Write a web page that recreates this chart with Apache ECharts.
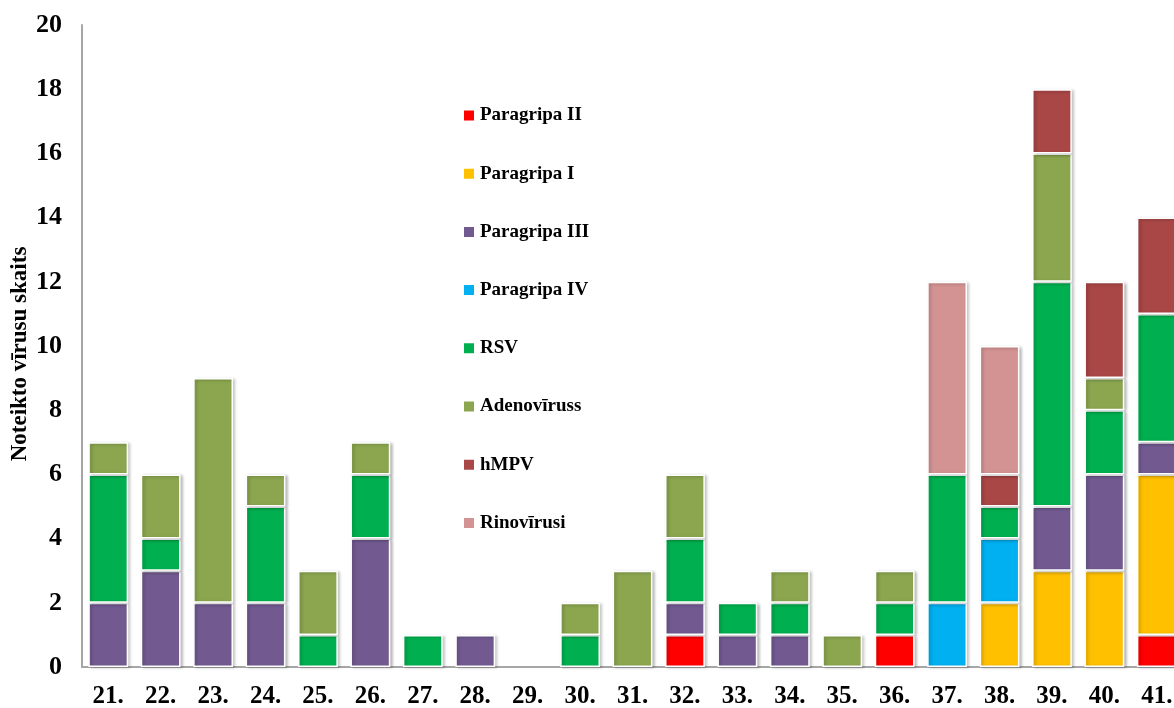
<!DOCTYPE html>
<html>
<head>
<meta charset="utf-8">
<script src="https://cdn.jsdelivr.net/npm/echarts@6/dist/echarts.min.js"></script>
<style>html,body{margin:0;padding:0;background:#fff;}#c{width:1174px;height:708px;}</style>
</head>
<body>
<div id="c"></div>
<script>
const categories = ['21.','22.','23.','24.','25.','26.','27.','28.','29.','30.','31.','32.','33.','34.','35.','36.','37.','38.','39.','40.','41.'];
const paragripaII  = [0,0,0,0,0,0,0,0,0,0,0,1,0,0,0,1,0,0,0,0,1];
const paragripaI   = [0,0,0,0,0,0,0,0,0,0,0,0,0,0,0,0,0,2,3,3,5];
const paragripaIII = [2,3,2,2,0,4,0,1,0,0,0,1,1,1,0,0,0,0,2,3,1];
const paragripaIV  = [0,0,0,0,0,0,0,0,0,0,0,0,0,0,0,0,2,2,0,0,0];
const rsv          = [4,1,0,3,1,2,1,0,0,1,0,2,1,1,0,1,4,1,7,2,4];
const adeno        = [1,2,7,1,2,1,0,0,0,1,3,2,0,1,1,1,0,0,4,1,0];
const hmpv         = [0,0,0,0,0,0,0,0,0,0,0,0,0,0,0,0,0,1,2,3,3];
const rino         = [0,0,0,0,0,0,0,0,0,0,0,0,0,0,0,0,6,4,0,0,0];
const yTicks = [0,2,4,6,8,10,12,14,16,18,20];

const seriesDefs = [
  ['Paragripa II', paragripaII, '#ff0000'],
  ['Paragripa I', paragripaI, '#ffc000'],
  ['Paragripa III', paragripaIII, '#725a91'],
  ['Paragripa IV', paragripaIV, '#00b0f0'],
  ['RSV', rsv, '#00b050'],
  ['Adenovīruss', adeno, '#8ba64f'],
  ['hMPV', hmpv, '#a94646'],
  ['Rinovīrusi', rino, '#d49393']
];
const font = '"Liberation Serif","Times New Roman",serif';
const chart = echarts.init(document.getElementById('c'));
chart.setOption({
  animation: false,
  grid: {left: 82, right: -9, top: 25, bottom: 41, containLabel: false, outerBoundsMode: 'none'},
  legend: {
    orient: 'vertical', left: 457, top: 101, itemGap: 39.2,
    itemWidth: 12, itemHeight: 12, icon: 'rect',
    textStyle: {fontFamily: font, fontWeight: 'bold', fontSize: 19, color: '#000'},
    data: seriesDefs.map(d => d[0])
  },
  xAxis: {
    type: 'category', data: categories,
    axisLine: {lineStyle: {color: '#a6a6a6', width: 2}},
    axisTick: {show: false},
    axisLabel: {fontFamily: font, fontWeight: 'bold', fontSize: 25, color: '#000', margin: 17, interval: 0}
  },
  yAxis: {
    type: 'value', min: 0, max: 20, interval: 2,
    axisLine: {show: true, lineStyle: {color: '#a6a6a6', width: 2}},
    axisTick: {show: false},
    splitLine: {show: false},
    axisLabel: {fontFamily: font, fontWeight: 'bold', fontSize: 26, color: '#000', margin: 20,
      formatter: v => yTicks.includes(v) ? String(v) : ''}
  },
  graphic: [{
    type: 'text', left: 9, top: 'middle', rotation: Math.PI / 2,
    style: {text: 'Noteikto vīrusu skaits', font: 'bold 23px "Liberation Serif", serif', fill: '#000'}
  }],
  series: seriesDefs.map(d => ({
    name: d[0], type: 'bar', stack: 'total', data: d[1].map(v => v === 0 ? null : v),
    barWidth: '76%',
    itemStyle: {color: d[2], borderColor: '#ffffff', borderWidth: 1.5,
      shadowColor: 'rgba(0,0,0,0.25)', shadowBlur: 3, shadowOffsetX: 2, shadowOffsetY: 1}
  }))
});
</script>
</body>
</html>
